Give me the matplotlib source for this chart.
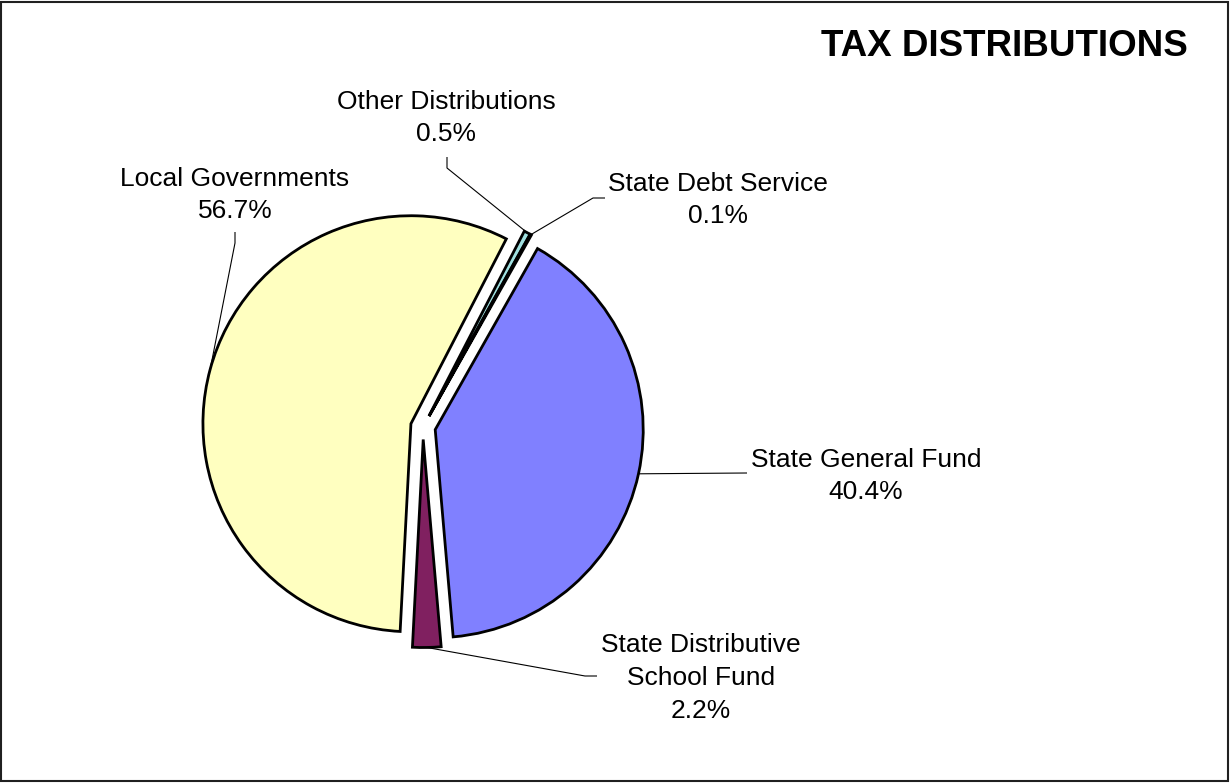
import numpy as np
import matplotlib

matplotlib.use("Agg")
import matplotlib.pyplot as plt
from matplotlib.patches import Rectangle

plt.rcParams["font.family"] = ["Liberation Sans", "DejaVu Sans"]

# ---------------------------------------------------------------------------
# Data
# ---------------------------------------------------------------------------
categories = [
    "Other Distributions",
    "State Debt Service",
    "State General Fund",
    "State Distributive\nSchool Fund",
    "Local Governments",
]
shares = [0.5, 0.1, 40.4, 2.2, 56.7]
colors = ["#A0E0E0", "#600080", "#8080FF", "#802060", "#FFFFC0"]

# label layout in pixel coords (x, y from top): elbow of leader line, text centre
W, H = 1230, 783
elbows = [(447, 168), (593, 198), (747, 473), (585, 676), (235, 243)]
elbow_ends = [(447, 157), (605, 198), (747, 473), (597, 676), (235, 232)]
text_xy = [(446, 118), (718, 200), (866, 476), (701, 678), (235, 195)]

fig = plt.figure(figsize=(W / 100, H / 100), dpi=100)
ax = fig.add_axes([0, 0, 1, 1])

# pie offsets are in data units here (not scaled by radius)
wedges, _ = ax.pie(
    shares,
    colors=colors,
    startangle=62.7,
    counterclock=False,
    radius=208,
    center=(423, H - 427),
    explode=[12.5] * len(shares),
    wedgeprops=dict(edgecolor="black", linewidth=2.0),
    frame=True,
)
ax.set_xlim(0, W)
ax.set_ylim(0, H)
ax.set_aspect("equal")
ax.axis("off")

for w, name, val, (ex, ey), (fx, fy), (tx, ty) in zip(
    wedges, categories, shares, elbows, elbow_ends, text_xy
):
    mid = np.deg2rad((w.theta1 + w.theta2) / 2)
    cx, cy = w.center
    px, py = cx + w.r * np.cos(mid), cy + w.r * np.sin(mid)
    ax.plot([px, ex, fx], [py, H - ey, H - fy], color="black", lw=0.8,
            solid_capstyle="butt", zorder=5)
    ax.text(tx, H - ty, f"{name}\n{val:.1f}%", ha="center", va="center",
            fontsize=19, linespacing=1.45)

ax.text(1004, H - 47, "TAX DISTRIBUTIONS", ha="center", va="center",
        fontsize=26.5, fontweight="bold")

# chart frame
fig.patches.append(Rectangle((0.001, 0.002), 0.997, 0.996, transform=fig.transFigure,
                             fill=False, edgecolor="#202020", linewidth=1.5))

fig.savefig("out.png", dpi=100)
